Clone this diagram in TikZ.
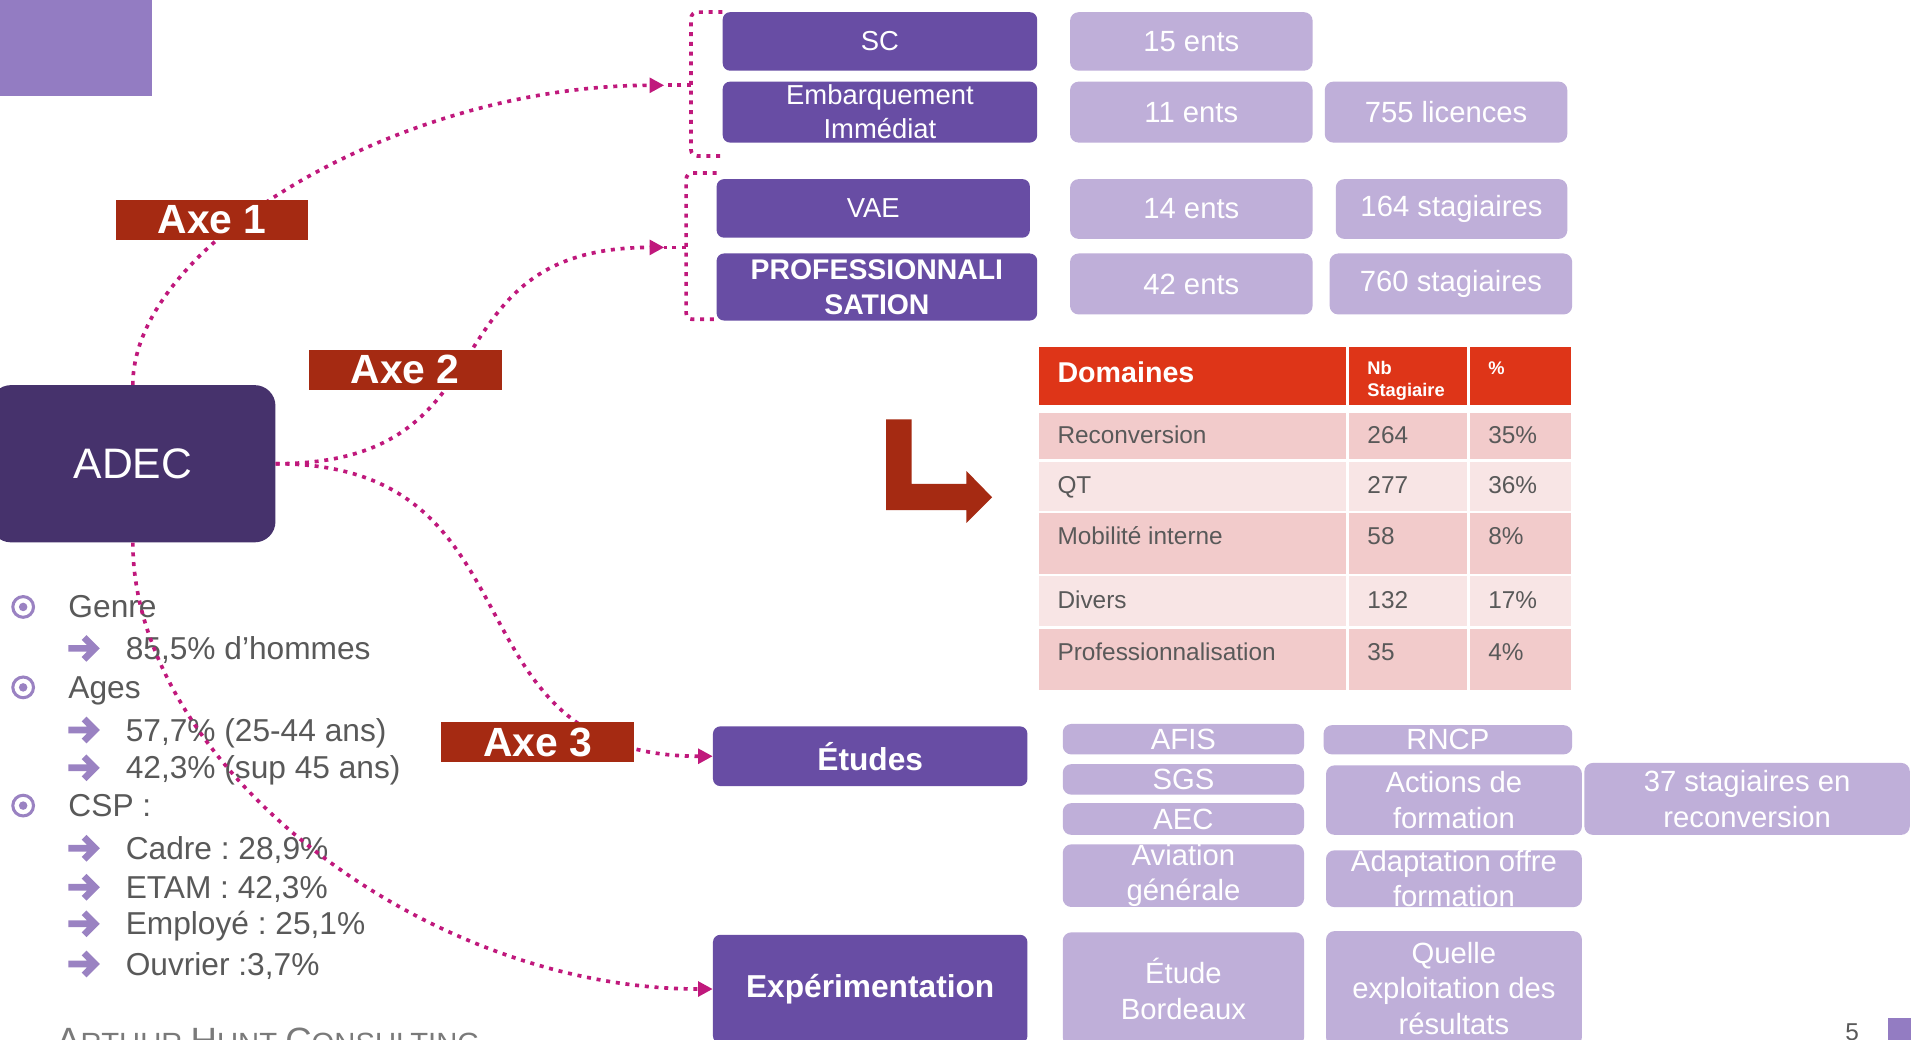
\documentclass[tikz,border=0pt]{standalone}
\usepackage{fontspec}
\setmainfont{Liberation Sans}
\frenchspacing
\usetikzlibrary{arrows.meta,positioning}
\definecolor{adecpurple}{HTML}{46326C}
\definecolor{boxpurple}{HTML}{684DA4}
\definecolor{lightpurple}{HTML}{BFAFD9}
\definecolor{cornerpurple}{HTML}{937CC2}
\definecolor{axered}{HTML}{A52A12}
\definecolor{headred}{HTML}{DE3518}
\definecolor{rowdark}{HTML}{F2CBCB}
\definecolor{rowlight}{HTML}{F8E5E5}
\definecolor{dotmagenta}{HTML}{C0187C}
\definecolor{textgrey}{HTML}{595959}
\definecolor{footgrey}{HTML}{7A7A7A}
\definecolor{bulletpurple}{HTML}{9A82C2}

\begin{document}
\begin{tikzpicture}[x=1pt, y=-1pt,
main node/.style={rectangle, rounded corners=6pt, fill=boxpurple, text=white, inner sep=0pt, align=center, font=\fontsize{22.5}{28}\selectfont},
info node/.style={rectangle, rounded corners=7pt, fill=lightpurple, text=white, inner sep=0pt, align=center, font=\fontsize{24}{29}\selectfont},
axe node/.style={rectangle, fill=axered, text=white, inner sep=0pt, minimum width=158pt, minimum height=33pt, font=\bfseries\fontsize{33.5}{36}\selectfont},
cell text/.style={anchor=base west, inner sep=0pt, text=textgrey, font=\fontsize{20}{24}\selectfont},
list text/.style={anchor=base west, inner sep=0pt, text=textgrey, font=\fontsize{26}{30}\selectfont},
axe line/.style={draw=dotmagenta, line width=3pt, dash pattern=on 3.3pt off 4.7pt},
list arrow/.style={draw=bulletpurple, line width=5.5pt, line join=miter}]
\useasboundingbox (0,0) rectangle (1568,853);
\clip (0,0) rectangle (1568,853);
\fill[white] (0,0) rectangle (1568,853);
\fill[cornerpurple] (0,0) rectangle (124.5,79);
\fill[cornerpurple] (1549,835) rectangle (1568,853);

% ADEC and the axes
\node[rectangle, rounded corners=17pt, fill=adecpurple, text=white, minimum width=234pt, minimum height=129pt, font=\fontsize{35}{40}\selectfont] (adec) at (109,380.5) {ADEC};
\begin{scope}[every node/.style={main node}]
\node[minimum width=258pt, minimum height=48pt] (sc) at (722,34) {SC};
\node[minimum width=258pt, minimum height=50pt] (emb) at (722,92) {Embarquement\\Immédiat};
\node[minimum width=257pt, minimum height=48pt] (vae) at (716.5,171) {VAE};
\node[minimum width=263pt, minimum height=55pt, font=\bfseries\fontsize{23.3}{29}\selectfont] (prof) at (719.5,235.5) {PROFESSIONNALI\\SATION};
\node[minimum width=258pt, minimum height=49pt, font=\bfseries\fontsize{26}{30}\selectfont] (etudes) at (714,620.5) {Études};
\node[minimum width=258pt, minimum height=89pt, font=\bfseries\fontsize{26}{30}\selectfont] (expe) at (714,811.5) {Expérimentation};
\end{scope}
\begin{scope}[every node/.style={info node}]
\node[minimum width=199pt, minimum height=48pt] (ents15) at (977.5,34) {15 ents};
\node[minimum width=199pt, minimum height=50pt] (ents11) at (977.5,92) {11 ents};
\node[minimum width=199pt, minimum height=50pt] (lic755) at (1186.5,92) {755 licences};
\node[minimum width=199pt, minimum height=49pt] (ents14) at (977.5,171.5) {14 ents};
\node[minimum width=190pt, minimum height=49pt] (stag164) at (1191,171.5) {164 stagiaires};
\node[minimum width=199pt, minimum height=50pt] (ents42) at (977.5,233) {42 ents};
\node[minimum width=199pt, minimum height=50pt] (stag760) at (1190.5,233) {760 stagiaires};
\node[minimum width=198pt, minimum height=25pt] (afis) at (971,606.5) {AFIS};
\node[minimum width=198pt, minimum height=25pt] (sgs) at (971,639.5) {SGS};
\node[minimum width=198pt, minimum height=26pt] (aec) at (971,672) {AEC};
\node[minimum width=198pt, minimum height=51pt] (aviation) at (971,718.5) {Aviation\\générale};
\node[minimum width=204pt, minimum height=24pt] (rncp) at (1188,607) {RNCP};
\node[minimum width=210pt, minimum height=57pt] (actions) at (1193,656.5) {Actions de\\formation};
\node[minimum width=267pt, minimum height=59pt] (stag37) at (1433.5,655.5) {37 stagiaires en\\reconversion};
\node[minimum width=210pt, minimum height=46pt] (adapt) at (1193,721) {Adaptation offre\\formation};
\node[minimum width=198pt, minimum height=93pt] (bordeaux) at (971,811.5) {Étude\\Bordeaux};
\node[minimum width=210pt, minimum height=94pt] (quelle) at (1193,811) {Quelle\\exploitation des\\résultats};
\end{scope}

% table of domains
\fill[headred] (852.6,284.5) rectangle (1289,332);
\fill[rowdark] (852.6,339) rectangle (1289,377);
\fill[rowlight] (852.6,379) rectangle (1289,419);
\fill[rowdark] (852.6,421) rectangle (1289,471);
\fill[rowlight] (852.6,473) rectangle (1289,514);
\fill[rowdark] (852.6,516) rectangle (1289,566);
\draw[white, line width=2.3pt] (1105.8,284) -- (1105.8,567) (1204.8,284) -- (1204.8,567);
\node[anchor=base west, inner sep=0pt, text=white, font=\bfseries\fontsize{23.5}{28}\selectfont] (hdom) at (867.5,314) {Domaines};
\node[anchor=base west, inner sep=0pt, text=white, font=\bfseries\fontsize{15}{18}\selectfont] (hnb) at (1121.8,307) {Nb};
\node[anchor=base west, inner sep=0pt, text=white, font=\bfseries\fontsize{15}{18}\selectfont] (hstag) at (1121.8,325) {Stagiaire};
\node[anchor=base west, inner sep=0pt, text=white, font=\bfseries\fontsize{15}{18}\selectfont] (hpct) at (1221,307) {\%};
\node[cell text] (d1) at (867.5,364) {Reconversion};
\node[cell text] (n1) at (1121.8,364) {264};
\node[cell text] (p1) at (1221,364) {35\%};
\node[cell text] (d2) at (867.5,405) {QT};
\node[cell text] (n2) at (1121.8,405) {277};
\node[cell text] (p2) at (1221,405) {36\%};
\node[cell text] (d3) at (867.5,447) {Mobilité interne};
\node[cell text] (n3) at (1121.8,447) {58};
\node[cell text] (p3) at (1221,447) {8\%};
\node[cell text] (d4) at (867.5,499) {Divers};
\node[cell text] (n4) at (1121.8,499) {132};
\node[cell text] (p4) at (1221,499) {17\%};
\node[cell text] (d5) at (867.5,542) {Professionnalisation};
\node[cell text] (n5) at (1121.8,542) {35};
\node[cell text] (p5) at (1221,542) {4\%};
\fill[axered] (727,344) -- (748,344) -- (748,397) -- (793,397) -- (793,386.5) -- (814,408) -- (793,429) -- (793,418.5) -- (727,418.5) -- cycle;

% figures on the left
\draw[bulletpurple, line width=2.5pt] (19,498) circle[radius=8.5pt] (19,564) circle[radius=8.5pt] (19,661) circle[radius=8.5pt];
\fill[bulletpurple] (19,498) circle[radius=3.5pt] (19,564) circle[radius=3.5pt] (19,661) circle[radius=3.5pt];
\draw[list arrow] (56,532) -- (76,532) (69,523) -- (78,532) -- (69,541);
\draw[list arrow] (56,599) -- (76,599) (69,590) -- (78,599) -- (69,608);
\draw[list arrow] (56,630) -- (76,630) (69,621) -- (78,630) -- (69,639);
\draw[list arrow] (56,696) -- (76,696) (69,687) -- (78,696) -- (69,705);
\draw[list arrow] (56,728) -- (76,728) (69,719) -- (78,728) -- (69,737);
\draw[list arrow] (56,758) -- (76,758) (69,749) -- (78,758) -- (69,767);
\draw[list arrow] (56,791) -- (76,791) (69,782) -- (78,791) -- (69,800);
\node[list text] (genre) at (56,507) {Genre};
\node[list text] (hommes) at (103,541) {85,5\% d’hommes};
\node[list text] (ages) at (56,573) {Ages};
\node[list text] (ages1) at (103,608) {57,7\% (25-44 ans)};
\node[list text] (ages2) at (103,639) {42,3\% (sup 45 ans)};
\node[list text] (csp) at (56,670) {CSP :};
\node[list text] (cadre) at (103,705) {Cadre : 28,9\%};
\node[list text] (etam) at (103,737) {ETAM : 42,3\%};
\node[list text] (employe) at (103,767) {Employé : 25,1\%};
\node[list text] (ouvrier) at (103,800) {Ouvrier :3,7\%};
\node[anchor=base west, inner sep=0pt, text=footgrey] (footer) at (46,864) {\fontsize{30}{30}\selectfont A\fontsize{24}{24}\selectfont RTHUR \fontsize{30}{30}\selectfont H\fontsize{24}{24}\selectfont UNT \fontsize{30}{30}\selectfont C\fontsize{24}{24}\selectfont ONSULTING};
\node[anchor=base west, inner sep=0pt, text=textgrey, font=\fontsize{20}{24}\selectfont] (pagenum) at (1514,854) {5};

% brackets and dotted links
\coordinate (b1) at (545,70);
\coordinate (b2) at (545,203);
\draw[axe line, rounded corners=5pt] (sc.north west) -- (567,10) -- (567,128) -- (593,128);
\draw[axe line] (567,70) -- (b1);
\draw[axe line, rounded corners=5pt] (588,142) -- (563,142) -- (563,262) -- (588,262);
\draw[axe line] (563,203) -- (b2);
\draw[axe line, -{Triangle[length=12pt,width=12pt]}] (adec.north) to[out=90, in=180, out distance=116pt, in distance=215pt] (b1);
\draw[axe line, -{Triangle[length=12pt,width=12pt]}] (adec.east) to[out=0, in=180, out distance=200pt, in distance=200pt] (b2);
\draw[axe line, -{Triangle[length=12pt,width=12pt]}] (adec.east) to[out=0, in=180, out distance=224pt, in distance=224pt] (etudes.west);
\draw[axe line, -{Triangle[length=12pt,width=12pt]}] (adec.south) to[out=-90, in=180, out distance=180pt, in distance=240pt] (expe.west);
\node[axe node] (axe1) at (174,180.5) {Axe 1};
\node[axe node] (axe2) at (332.5,303.5) {Axe 2};
\node[axe node] (axe3) at (441,609) {Axe 3};
\end{tikzpicture}
\end{document}
